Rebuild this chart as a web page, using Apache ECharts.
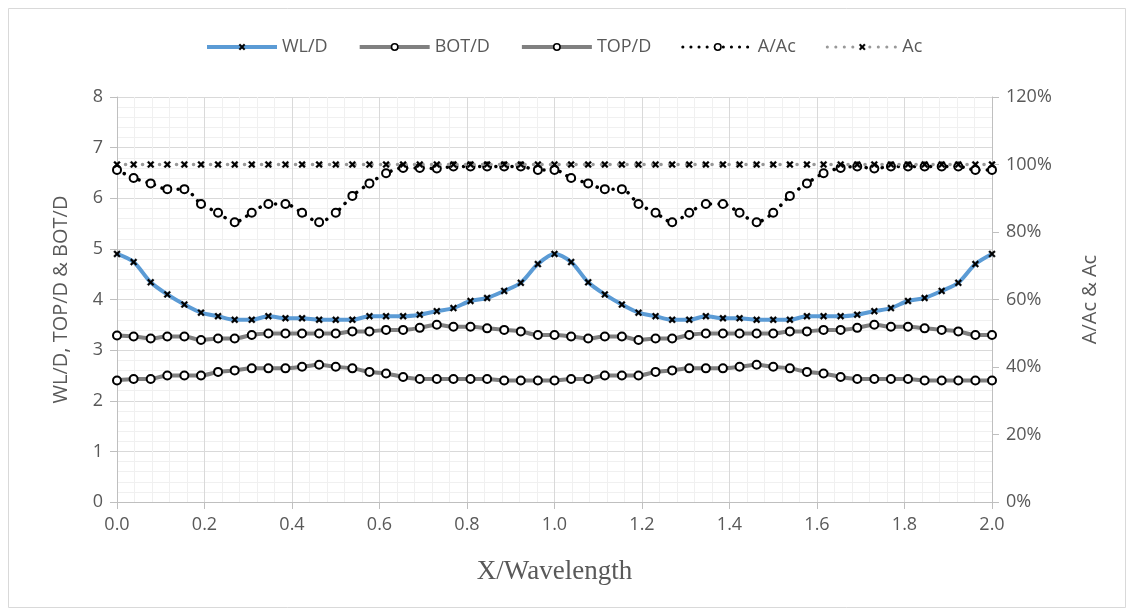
<!DOCTYPE html>
<html>
<head>
<meta charset="utf-8">
<script src="https://cdn.jsdelivr.net/npm/echarts@6/dist/echarts.min.js"></script>
<style>
html,body{margin:0;padding:0;background:#fff;}
#chart{width:1134px;height:616px;}
</style>
</head>
<body>
<div id="chart"></div>
<script>
// X/Wavelength positions
const xVals = [0, 0.038, 0.077, 0.115, 0.154, 0.192, 0.231, 0.269, 0.308, 0.346, 0.385, 0.423, 0.462, 0.5, 0.538, 0.577, 0.615, 0.654, 0.692, 0.731, 0.769, 0.808, 0.846, 0.885, 0.923, 0.962, 1.0, 1.038, 1.077, 1.115, 1.154, 1.192, 1.231, 1.269, 1.308, 1.346, 1.385, 1.423, 1.462, 1.5, 1.538, 1.577, 1.615, 1.654, 1.692, 1.731, 1.769, 1.808, 1.846, 1.885, 1.923, 1.962, 2.0];
const wlD = [4.90,4.74,4.34,4.10,3.90,3.74,3.67,3.60,3.60,3.67,3.63,3.63,3.60,3.60,3.60,3.67,3.67,3.67,3.70,3.77,3.83,3.97,4.03,4.17,4.33,4.70,4.90,4.74,4.34,4.10,3.90,3.74,3.67,3.60,3.60,3.67,3.63,3.63,3.60,3.60,3.60,3.67,3.67,3.67,3.70,3.77,3.83,3.97,4.03,4.17,4.33,4.70,4.90];
const botD = [2.40,2.43,2.43,2.50,2.50,2.50,2.57,2.60,2.64,2.64,2.64,2.67,2.71,2.67,2.64,2.57,2.54,2.47,2.43,2.43,2.43,2.43,2.43,2.40,2.40,2.40,2.40,2.43,2.43,2.50,2.50,2.50,2.57,2.60,2.64,2.64,2.64,2.67,2.71,2.67,2.64,2.57,2.54,2.47,2.43,2.43,2.43,2.43,2.40,2.40,2.40,2.40,2.40];
const topD = [3.29,3.27,3.23,3.27,3.27,3.20,3.23,3.23,3.30,3.33,3.33,3.33,3.33,3.33,3.37,3.37,3.40,3.40,3.44,3.50,3.46,3.46,3.43,3.40,3.37,3.30,3.30,3.27,3.23,3.27,3.27,3.20,3.23,3.23,3.30,3.33,3.33,3.33,3.33,3.33,3.37,3.37,3.40,3.40,3.44,3.50,3.46,3.46,3.43,3.40,3.37,3.30,3.30];
const aAc = [98.4,96.0,94.4,92.7,92.7,88.3,85.7,82.9,85.7,88.3,88.3,85.7,82.9,85.7,90.7,94.4,97.4,99.0,99.0,98.8,99.4,99.4,99.4,99.4,99.4,98.4,98.4,96.0,94.4,92.7,92.7,88.3,85.7,82.9,85.7,88.3,88.3,85.7,82.9,85.7,90.7,94.4,97.4,99.0,99.4,98.8,99.4,99.4,99.4,99.4,99.4,98.4,98.4];
const ac = [100,100,100,100,100,100,100,100,100,100,100,100,100,100,100,100,100,100,100,100,100,100,100,100,100,100,100,100,100,100,100,100,100,100,100,100,100,100,100,100,100,100,100,100,100,100,100,100,100,100,100,100,100];
const seriesNames = ['WL/D', 'BOT/D', 'TOP/D', 'A/Ac', 'Ac'];

const pair = arr => arr.map((v, i) => [xVals[i], v]);
const XMARK = 'path://M2,0 L5,3 L8,0 L10,2 L7,5 L10,8 L8,10 L5,7 L2,10 L0,8 L3,5 L0,2 Z';
const txt = '#595959';
const font = 'Open Sans';

const chart = echarts.init(document.getElementById('chart'));
chart.setOption({
  animation: false,
  backgroundColor: '#fff',
  graphic: [{
    type: 'rect', shape: {x: 8.5, y: 8.5, width: 1117, height: 599},
    style: {fill: 'none', stroke: '#d9d9d9', lineWidth: 1}, silent: true, z: -10
  }],
  legend: {
    left: 200, top: 33,
    itemWidth: 70, itemHeight: 8, itemGap: 30,
    textStyle: {color: txt, fontSize: 18, fontFamily: font},
    data: [
      {name: seriesNames[0], lineStyle: {width: 4}, itemStyle: {borderWidth: 0.3}},
      {name: seriesNames[1], lineStyle: {width: 4}, itemStyle: {borderWidth: 1.6}},
      {name: seriesNames[2], lineStyle: {width: 4}, itemStyle: {borderWidth: 1.6}},
      {name: seriesNames[3], lineStyle: {width: 3}, itemStyle: {borderWidth: 1.6}},
      {name: seriesNames[4], lineStyle: {width: 3}, itemStyle: {borderWidth: 0.3}}
    ]
  },
  grid: {left: 117, right: 142, top: 97, bottom: 114},
  xAxis: {
    type: 'value', min: 0, max: 2, interval: 0.2,
    name: 'X/Wavelength', nameLocation: 'middle', nameGap: 56,
    nameTextStyle: {fontFamily: 'Liberation Serif', fontSize: 27, color: txt},
    axisLine: {onZero: false, lineStyle: {color: '#bfbfbf'}},
    axisTick: {show: true, length: 7, lineStyle: {color: '#bfbfbf'}},
    axisLabel: {color: txt, fontSize: 18, fontFamily: font, margin: 14, formatter: v => v.toFixed(1)},
    splitLine: {show: true, lineStyle: {color: '#d9d9d9', width: 1}},
    minorTick: {show: false, splitNumber: 5},
    minorSplitLine: {show: true, lineStyle: {color: '#f0f0f0', width: 1}}
  },
  yAxis: [{
    type: 'value', min: 0, max: 8, interval: 1,
    name: 'WL/D, TOP/D & BOT/D', nameLocation: 'middle', nameGap: 46, nameRotate: 90,
    nameTextStyle: {fontFamily: font, fontSize: 20, color: txt},
    axisLine: {show: true, lineStyle: {color: '#bfbfbf'}},
    axisTick: {show: true, length: 7, lineStyle: {color: '#bfbfbf'}},
    axisLabel: {color: txt, fontSize: 18, fontFamily: font, margin: 14},
    splitLine: {show: true, lineStyle: {color: '#d9d9d9', width: 1}},
    minorTick: {show: false, splitNumber: 5},
    minorSplitLine: {show: true, lineStyle: {color: '#f0f0f0', width: 1}}
  }, {
    type: 'value', min: 0, max: 120, interval: 20, position: 'right',
    name: 'A/Ac & Ac', nameLocation: 'middle', nameGap: 88, nameRotate: 90,
    nameTextStyle: {fontFamily: font, fontSize: 20, color: txt},
    axisLine: {show: true, lineStyle: {color: '#bfbfbf'}},
    axisTick: {show: true, length: 7, lineStyle: {color: '#bfbfbf'}},
    axisLabel: {color: txt, fontSize: 18, fontFamily: font, margin: 14, formatter: '{value}%'},
    splitLine: {show: false}
  }],
  series: [{
    name: seriesNames[0], type: 'line', yAxisIndex: 0, data: pair(wlD), smooth: 0.3,
    symbol: XMARK, symbolSize: 7,
    lineStyle: {color: '#5b9bd5', width: 4},
    itemStyle: {color: '#000', borderColor: '#000', borderWidth: 0.3},
    color: '#5b9bd5', z: 3
  }, {
    name: seriesNames[1], type: 'line', yAxisIndex: 0, data: pair(botD), smooth: 0.3,
    symbol: 'circle', symbolSize: 8, showAllSymbol: true,
    lineStyle: {color: '#808080', width: 4},
    itemStyle: {color: '#fff', borderColor: '#000', borderWidth: 2},
    color: '#808080', z: 2
  }, {
    name: seriesNames[2], type: 'line', yAxisIndex: 0, data: pair(topD), smooth: 0.3,
    symbol: 'circle', symbolSize: 8, showAllSymbol: true,
    lineStyle: {color: '#808080', width: 4},
    itemStyle: {color: '#fff', borderColor: '#000', borderWidth: 2},
    color: '#808080', z: 2
  }, {
    name: seriesNames[3], type: 'line', yAxisIndex: 1, data: pair(aAc), smooth: 0.3,
    symbol: 'circle', symbolSize: 8, showAllSymbol: true,
    lineStyle: {color: '#000', width: 3.5, type: [0.1, 8], cap: 'round'},
    itemStyle: {color: '#fff', borderColor: '#000', borderWidth: 2},
    color: '#000', z: 4
  }, {
    name: seriesNames[4], type: 'line', yAxisIndex: 1, data: pair(ac),
    symbol: XMARK, symbolSize: 7, showAllSymbol: true,
    lineStyle: {color: '#999', width: 3.5, type: [0.1, 8.4], cap: 'round'},
    itemStyle: {color: '#000', borderColor: '#000', borderWidth: 0.3},
    color: '#999', z: 5
  }]
});
</script>
</body>
</html>
